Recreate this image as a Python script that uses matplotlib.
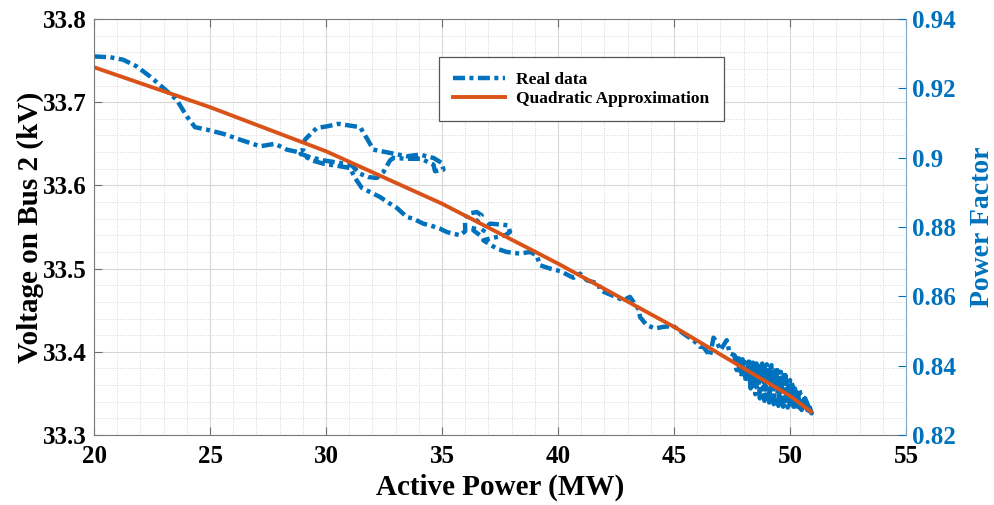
import numpy as np
import matplotlib
matplotlib.use('Agg')
import matplotlib.pyplot as plt
from matplotlib.ticker import FixedLocator, FuncFormatter

plt.rcParams['font.family'] = ['Liberation Serif', 'DejaVu Serif']
plt.rcParams['font.weight'] = 'bold'

# measured operating points (active power in MW, bus 2 voltage in kV)
power_mw = [
    20.0, 20.7, 21.26, 21.84, 22.41, 22.99, 23.56, 24.0, 24.35, 24.86,
    25.57, 26.29, 27.16, 27.8, 28.31, 28.8, 29.02, 29.09, 29.6, 30.05,
    30.53, 31.0, 31.47, 31.75, 32.04, 32.4, 32.76, 33.1, 33.48, 34.05,
    34.63, 34.99, 35.06, 34.7, 34.63, 34.1, 33.5, 32.9, 32.76, 32.47,
    32.19, 31.82, 31.47, 31.11, 30.6, 29.9, 29.3, 28.9, 29.4, 29.9,
    30.6, 31.03, 31.25, 31.54, 31.9, 32.33, 32.7, 33.05, 33.48, 33.76,
    34.19, 34.48, 34.91, 35.2, 35.78, 36.0, 35.99, 36.13, 36.5, 36.71,
    36.42, 36.35, 36.64, 36.9, 37.07, 37.5, 37.84, 37.93, 37.72, 37.2,
    36.78, 37.36, 37.79, 38.36, 38.79, 39.08, 39.22, 39.66, 40.09, 40.66,
    40.95, 41.24, 41.74, 41.81, 42.31, 42.81, 43.1, 43.3, 43.5, 43.53,
    43.82, 44.18, 44.54, 44.97, 45.3, 45.6, 45.83, 46.12, 46.26, 46.55,
    46.7, 46.84, 47.0, 47.27, 47.4,
    47.6, 47.7, 47.8, 47.9, 48.0, 48.1, 48.2, 48.3, 48.4, 48.5,
    48.6, 48.7, 48.8, 48.9, 49.0, 49.1, 49.2, 49.3, 49.4, 49.5,
    49.6, 49.7, 49.8, 49.9, 50.0, 50.1, 50.2, 50.3, 50.4, 50.5,
    50.6, 50.7, 50.8, 50.93,
    50.75, 50.55, 50.45, 50.25, 50.15, 49.95, 49.85, 49.65, 49.55, 49.35,
    49.25, 49.05, 48.95, 48.75, 48.65, 48.45, 48.35, 48.15, 48.05, 47.85,
    47.75,
    48.0, 48.5, 49.0, 49.5, 50.0, 50.5, 50.85,
    50.8, 50.65, 50.5, 50.35, 50.2, 50.05, 49.9, 49.75, 49.6, 49.45,
    49.3, 49.15, 49.0, 48.85, 48.7, 48.55, 48.4, 48.25, 48.1, 47.95,
    47.8, 47.65,
    47.9, 48.05, 48.2, 48.35, 48.5, 48.65, 48.8, 48.95, 49.1, 49.25,
    49.4, 49.55, 49.7, 49.85, 50.0, 50.15, 50.3, 50.45, 50.6, 50.75,
    50.9,
]
voltage_kv = [
    33.755, 33.754, 33.751, 33.743, 33.731, 33.717, 33.703, 33.683, 33.670, 33.667,
    33.662, 33.655, 33.647, 33.650, 33.643, 33.640, 33.643, 33.655, 33.669, 33.671,
    33.674, 33.672, 33.670, 33.657, 33.643, 33.641, 33.639, 33.637, 33.635, 33.637,
    33.633, 33.627, 33.619, 33.617, 33.625, 33.632, 33.632, 33.633, 33.630, 33.616,
    33.609, 33.610, 33.614, 33.624, 33.627, 33.630, 33.634, 33.638, 33.630, 33.626,
    33.623, 33.621, 33.609, 33.597, 33.592, 33.586, 33.579, 33.573, 33.562, 33.560,
    33.554, 33.552, 33.548, 33.544, 33.540, 33.545, 33.556, 33.566, 33.568, 33.564,
    33.554, 33.546, 33.540, 33.550, 33.554, 33.553, 33.552, 33.544, 33.540, 33.537,
    33.534, 33.524, 33.520, 33.518, 33.520, 33.516, 33.504, 33.500, 33.497, 33.489,
    33.494, 33.486, 33.482, 33.474, 33.468, 33.462, 33.466, 33.458, 33.450, 33.442,
    33.432, 33.428, 33.430, 33.431, 33.424, 33.418, 33.414, 33.406, 33.406, 33.395,
    33.417, 33.412, 33.402, 33.414, 33.398,
    33.396, 33.378, 33.392, 33.370, 33.390, 33.364, 33.388, 33.356, 33.387, 33.349,
    33.386, 33.344, 33.386, 33.341, 33.385, 33.339, 33.384, 33.337, 33.380, 33.335,
    33.376, 33.334, 33.372, 33.333, 33.366, 33.332, 33.360, 33.331, 33.354, 33.330,
    33.346, 33.329, 33.338, 33.326,
    33.334, 33.342, 33.336, 33.352, 33.340, 33.360, 33.344, 33.368, 33.348, 33.374,
    33.352, 33.378, 33.356, 33.380, 33.360, 33.382, 33.366, 33.384, 33.374, 33.386,
    33.382,
    33.380, 33.370, 33.362, 33.356, 33.348, 33.338, 33.330,
    33.334, 33.344, 33.346, 33.356, 33.352, 33.364, 33.358, 33.372, 33.364, 33.378,
    33.370, 33.383, 33.374, 33.385, 33.378, 33.386, 33.380, 33.388, 33.382, 33.391,
    33.386, 33.394,
    33.376, 33.370, 33.366, 33.360, 33.362, 33.352, 33.356, 33.346, 33.350, 33.342,
    33.346, 33.338, 33.342, 33.336, 33.340, 33.334, 33.336, 33.332, 33.334, 33.330,
    33.328,
]

# quadratic approximation
fit_power = [20, 25, 30, 35, 40, 45, 50, 50.9]
fit_voltage = [33.742, 33.694, 33.641, 33.578, 33.506, 33.430, 33.347, 33.328]

x_ticks = [20, 25, 30, 35, 40, 45, 50, 55]
v_ticks = [33.3, 33.4, 33.5, 33.6, 33.7, 33.8]
pf_ticks = [0.82, 0.84, 0.86, 0.88, 0.90, 0.92, 0.94]
pf_labels = ['0.82', '0.84', '0.86', '0.88', '0.9', '0.92', '0.94']

blue = '#0072BD'
orange = '#D95319'

fig = plt.figure(figsize=(9.95, 5.05), dpi=100)
ax = fig.add_axes([0.0945, 0.1386, 0.8161, 0.8238])

ax.plot(power_mw, voltage_kv, color=blue, lw=3.2, ls=(0, (2.7, 1.0, 0.9, 1.0)),
        label='Real data')
ax.plot(fit_power, fit_voltage, color=orange, lw=2.8, label='Quadratic Approximation')

ax.set_xlim(20, 55)
ax.set_ylim(33.3, 33.8)
ax.xaxis.set_major_locator(FixedLocator(x_ticks))
ax.xaxis.set_minor_locator(FixedLocator(np.arange(20, 56, 1)))
ax.yaxis.set_major_locator(FixedLocator(v_ticks))
ax.yaxis.set_minor_locator(FixedLocator(np.arange(33.3, 33.81, 0.02)))
ax.xaxis.set_major_formatter(FuncFormatter(lambda v, _: f'{v:.0f}'))
ax.yaxis.set_major_formatter(FuncFormatter(lambda v, _: f'{v:.1f}'))

ax.grid(which='major', color='#d6d6d6', lw=0.8)
ax.grid(which='minor', color='#d6d6d6', lw=0.7, ls=':')
ax.set_axisbelow(True)

ax.tick_params(which='major', direction='in', length=6, width=0.8, color='#6e6e6e',
               labelsize=18, top=True, right=False)
ax.tick_params(which='minor', length=0)
ax.tick_params(axis='x', pad=7)
ax.tick_params(axis='y', pad=5)
for s in ['left', 'bottom', 'top']:
    ax.spines[s].set_color('#7a7a7a')
ax.spines['right'].set_visible(False)

ax.set_xlabel('Active Power (MW)', fontsize=21, fontweight='bold')
ax.set_ylabel('Voltage on Bus 2 (kV)', fontsize=21, fontweight='bold')
ax.xaxis.set_label_coords(0.5, -0.092)
ax.yaxis.set_label_coords(-0.062, 0.5)

ax2 = ax.twinx()
ax2.set_ylim(0.82, 0.94)
ax2.yaxis.set_major_locator(FixedLocator(pf_ticks))
ax2.set_yticklabels(pf_labels)
ax2.tick_params(axis='y', direction='in', length=6, width=0.8, colors=blue,
                labelsize=18, pad=4)
for s in ['left', 'bottom', 'top']:
    ax2.spines[s].set_visible(False)
ax2.spines['right'].set_color('#7fa7c9')
ax2.set_ylabel('Power Factor', fontsize=20, fontweight='bold', color=blue)
ax2.yaxis.set_label_coords(1.079, 0.5)

leg = ax.legend(loc='upper left', bbox_to_anchor=(0.4243, 0.9087), borderaxespad=0,
                fontsize=12.5, handlelength=3.0, handletextpad=0.6, borderpad=0.85,
                labelspacing=0.15, fancybox=False, framealpha=1, edgecolor='#555555')
leg.get_frame().set_linewidth(0.9)

fig.savefig('out.png', dpi=100)
